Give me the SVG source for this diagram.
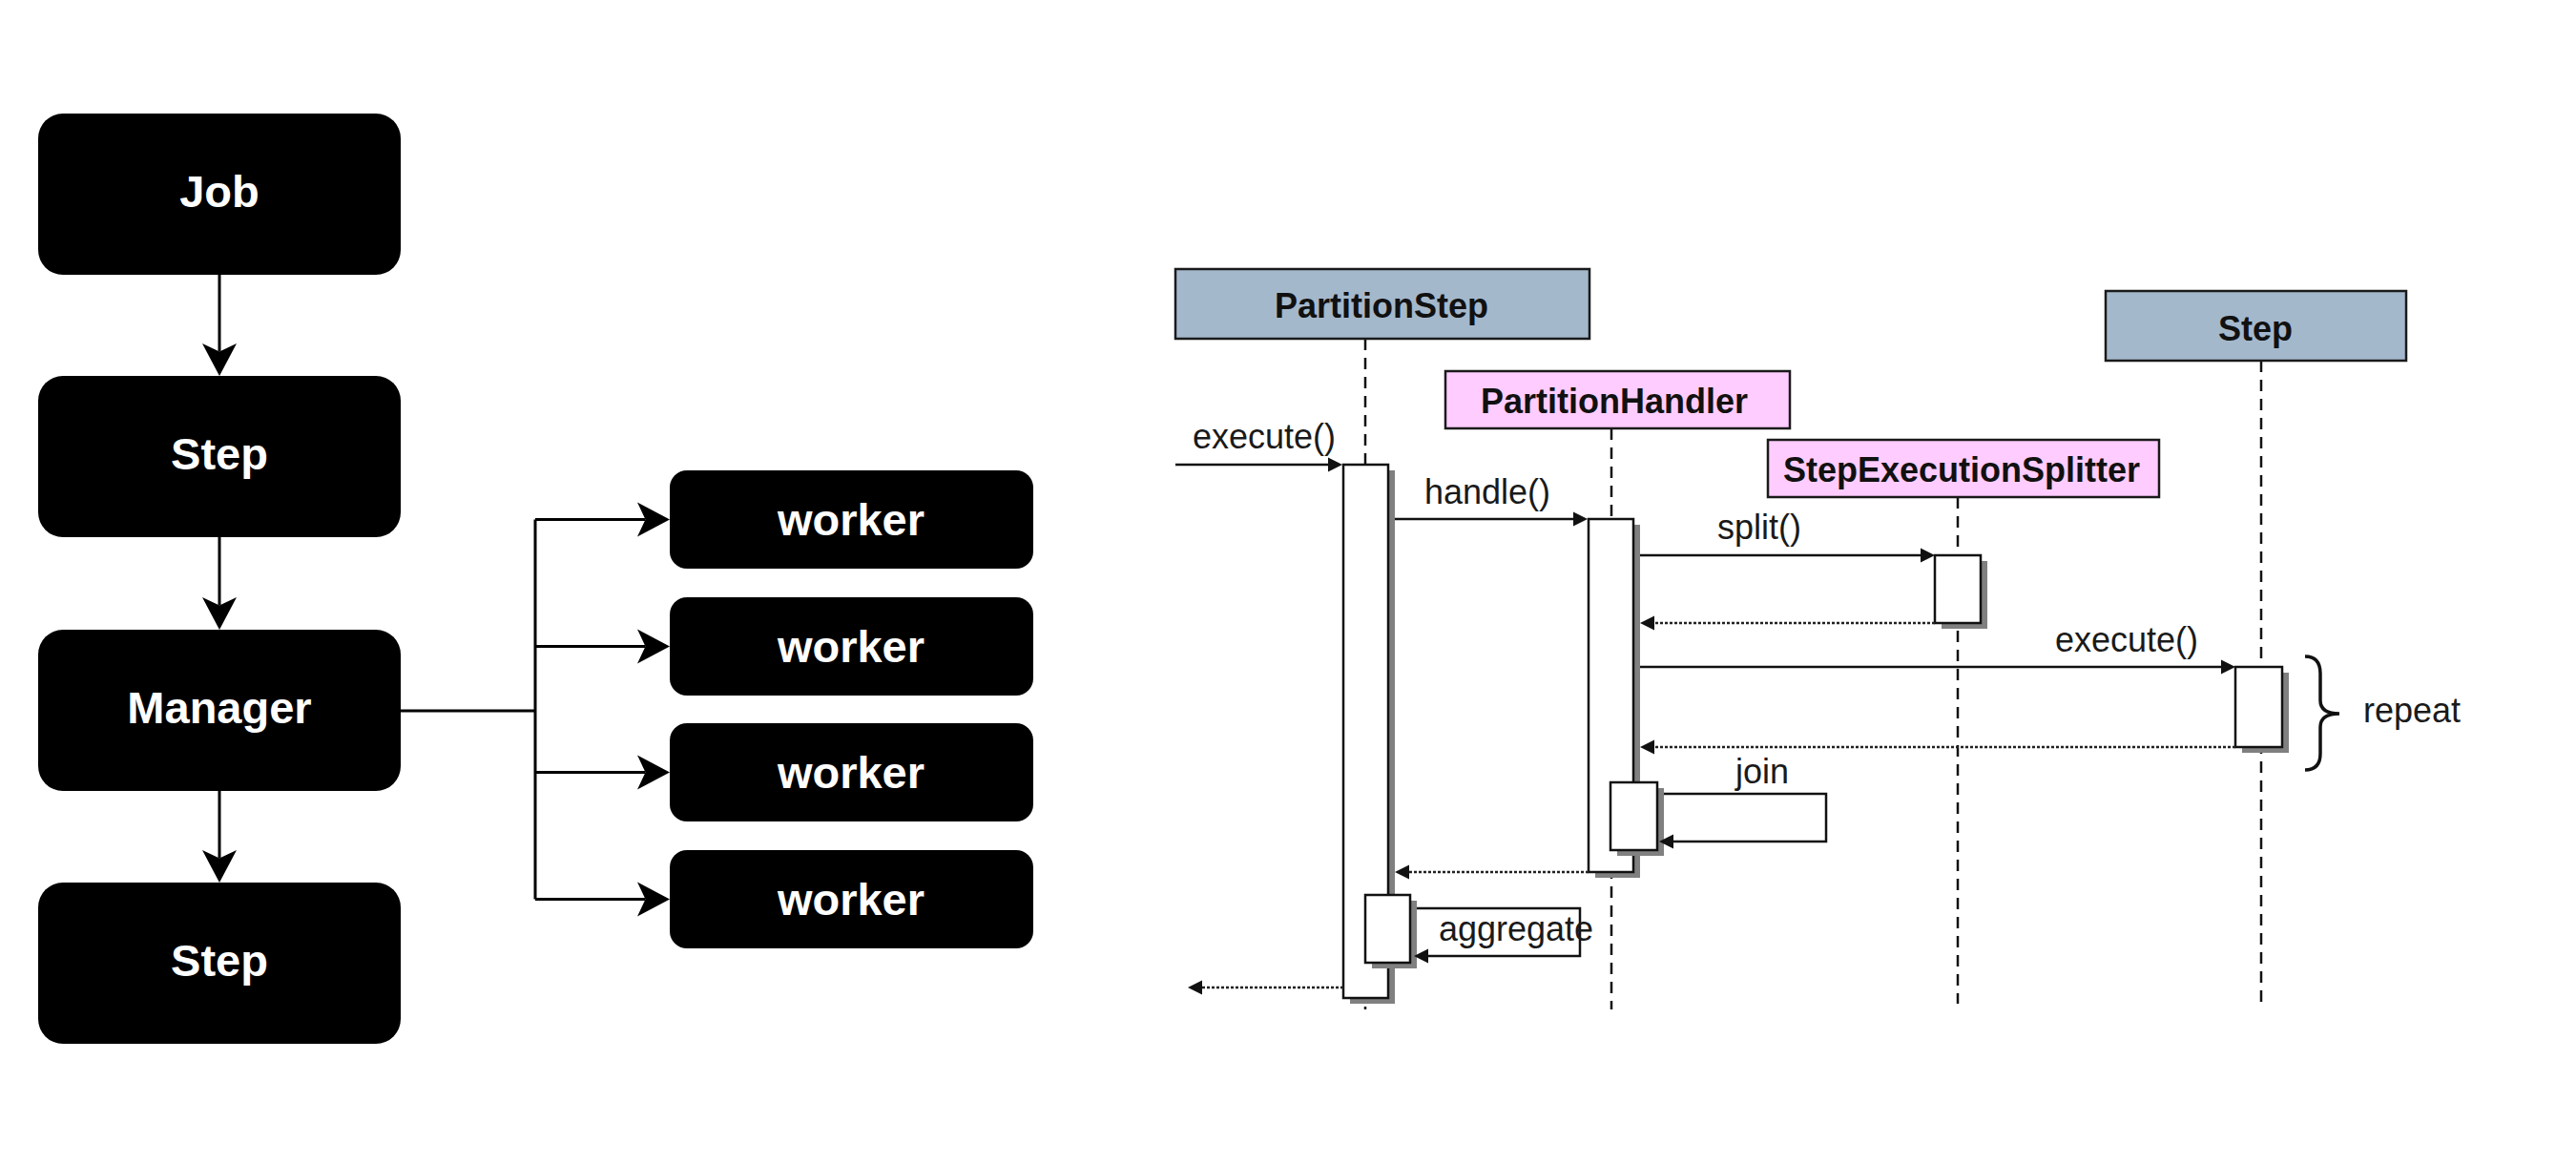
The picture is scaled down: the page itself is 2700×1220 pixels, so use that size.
<svg xmlns="http://www.w3.org/2000/svg" width="2700" height="1220" viewBox="0 0 2700 1220">
<style>
.blk{fill:#000;}
.bt{font-family:"Liberation Sans",Arial,sans-serif;font-weight:bold;font-size:47px;fill:#fff;text-anchor:middle;}
.fl{fill:none;stroke:#000;stroke-width:3;}
.hd{stroke:#1a1a1a;stroke-width:2.5;}
.ht{font-family:"Liberation Sans",Arial,sans-serif;font-weight:bold;font-size:36px;fill:#111;text-anchor:middle;}
.life{stroke:#111;stroke-width:2.5;stroke-dasharray:12 8;fill:none;}
.shadow{fill:#808080;}
.bar{fill:#fff;stroke:#111;stroke-width:2.5;}
.msg{fill:none;stroke:#111;stroke-width:2.5;}
.ret{fill:none;stroke:#222;stroke-width:2.5;stroke-dasharray:3 2;}
.lbl{font-family:"Liberation Sans",Arial,sans-serif;font-size:36px;fill:#1a1a1a;}
</style>
<defs>
<marker id="big" viewBox="-10 -20 38 40" markerWidth="38" markerHeight="40" refX="0" refY="0" markerUnits="userSpaceOnUse" orient="auto">
<path d="M25.5,0 L-8.5,-18 L0,0 L-8.5,18 Z" fill="#000"/>
</marker>
<marker id="tri" viewBox="0 -9 16 18" markerWidth="16" markerHeight="18" refX="0" refY="0" markerUnits="userSpaceOnUse" orient="auto">
<path d="M15,0 L0,-7.5 L0,7.5 Z" fill="#111"/>
</marker>
</defs>
<rect width="2700" height="1220" fill="#fff"/>

<!-- Left flow nodes -->
<g id="job"><rect class="blk" x="40" y="119" width="380" height="169" rx="26"/><text class="bt" x="230" y="217">Job</text></g>
<g id="step1"><rect class="blk" x="40" y="394" width="380" height="169" rx="26"/><text class="bt" x="230" y="492">Step</text></g>
<g id="manager"><rect class="blk" x="40" y="660" width="380" height="169" rx="26"/><text class="bt" x="230" y="758">Manager</text></g>
<g id="step2"><rect class="blk" x="40" y="925" width="380" height="169" rx="26"/><text class="bt" x="230" y="1023">Step</text></g>
<g id="worker1"><rect class="blk" x="702" y="493" width="381" height="103" rx="18"/><text class="bt" x="892" y="561">worker</text></g>
<g id="worker2"><rect class="blk" x="702" y="626" width="381" height="103" rx="18"/><text class="bt" x="892" y="694">worker</text></g>
<g id="worker3"><rect class="blk" x="702" y="758" width="381" height="103" rx="18"/><text class="bt" x="892" y="826">worker</text></g>
<g id="worker4"><rect class="blk" x="702" y="891" width="381" height="103" rx="18"/><text class="bt" x="892" y="959">worker</text></g>

<g id="flow-connectors">
<path class="fl" d="M230,288 L230,368.5" marker-end="url(#big)"/>
<path class="fl" d="M230,563 L230,634.5" marker-end="url(#big)"/>
<path class="fl" d="M230,829 L230,899.5" marker-end="url(#big)"/>
<path class="fl" d="M420,745 L561,745"/>
<path class="fl" d="M561,544.5 L561,942.5"/>
<path class="fl" d="M561,544.5 L676.5,544.5" marker-end="url(#big)"/>
<path class="fl" d="M561,677.5 L676.5,677.5" marker-end="url(#big)"/>
<path class="fl" d="M561,809.5 L676.5,809.5" marker-end="url(#big)"/>
<path class="fl" d="M561,942.5 L676.5,942.5" marker-end="url(#big)"/>
</g>

<!-- Sequence diagram lifelines -->
<g id="lifelines">
<path class="life" d="M1431,355 L1431,1058"/>
<path class="life" d="M1689,449 L1689,1058"/>
<path class="life" d="M2052,521 L2052,1052"/>
<path class="life" d="M2370,378 L2370,1058"/>
</g>

<g id="PartitionStep"><rect class="hd" x="1232" y="282" width="434" height="73" fill="#A4B8CC"/><text class="ht" x="1448" y="333">PartitionStep</text></g>
<g id="PartitionHandler"><rect class="hd" x="1515" y="389" width="361" height="60" fill="#FFCCFF"/><text class="ht" x="1692" y="433">PartitionHandler</text></g>
<g id="StepExecutionSplitter"><rect class="hd" x="1853" y="461" width="410" height="60" fill="#FFCCFF"/><text class="ht" x="2056" y="505">StepExecutionSplitter</text></g>
<g id="Step"><rect class="hd" x="2207" y="305" width="315" height="73" fill="#A4B8CC"/><text class="ht" x="2364" y="357">Step</text></g>

<!-- activation bars -->
<g id="act-partitionstep"><rect class="shadow" x="1415" y="493" width="47" height="559"/><rect class="bar" x="1408" y="487" width="47" height="559"/></g>
<g id="act-handler"><rect class="shadow" x="1672" y="550" width="47" height="370"/><rect class="bar" x="1665" y="544" width="47" height="370"/></g>
<g id="act-splitter"><rect class="shadow" x="2035" y="588" width="48" height="71"/><rect class="bar" x="2028" y="582" width="48" height="71"/></g>
<g id="act-step"><rect class="shadow" x="2350" y="705" width="49" height="84"/><rect class="bar" x="2343" y="699" width="49" height="84"/></g>
<g id="act-join"><rect class="shadow" x="1695" y="826" width="49" height="71"/><rect class="bar" x="1688" y="820" width="49" height="71"/></g>
<g id="act-aggregate"><rect class="shadow" x="1438" y="944" width="47" height="71"/><rect class="bar" x="1431" y="938" width="47" height="71"/></g>

<g id="messages">
<path class="msg" d="M1232,487 L1392,487" marker-end="url(#tri)"/>
<path class="msg" d="M1462,544 L1649,544" marker-end="url(#tri)"/>
<path class="msg" d="M1719,582 L2013,582" marker-end="url(#tri)"/>
<path class="ret" d="M2028,653 L1734,653" marker-end="url(#tri)"/>
<path class="msg" d="M1719,699 L2328,699" marker-end="url(#tri)"/>
<path class="ret" d="M2343,783 L1734,783" marker-end="url(#tri)"/>
<path class="msg" d="M1744,832 L1914,832 L1914,882 L1754,882" marker-end="url(#tri)"/>
<path class="ret" d="M1665,914 L1477,914" marker-end="url(#tri)"/>
<path class="msg" d="M1485,952 L1656,952 L1656,1002 L1497,1002" marker-end="url(#tri)"/>
<path class="ret" d="M1408,1035 L1260,1035" marker-end="url(#tri)"/>
<path fill="none" stroke="#111" stroke-width="3.5" d="M2416,688 Q2432,688 2432,706 L2432,734 Q2432,748 2452,748 Q2432,748 2432,762 L2432,790 Q2432,807 2416,807"/>
</g>

<g id="labels">
<text class="lbl" x="1250" y="470">execute()</text>
<text class="lbl" x="1493" y="528">handle()</text>
<text class="lbl" x="1800" y="565">split()</text>
<text class="lbl" x="2154" y="683">execute()</text>
<text class="lbl" x="1819" y="821">join</text>
<text class="lbl" x="1508" y="986">aggregate</text>
<text class="lbl" x="2477" y="757">repeat</text>
</g>
</svg>
